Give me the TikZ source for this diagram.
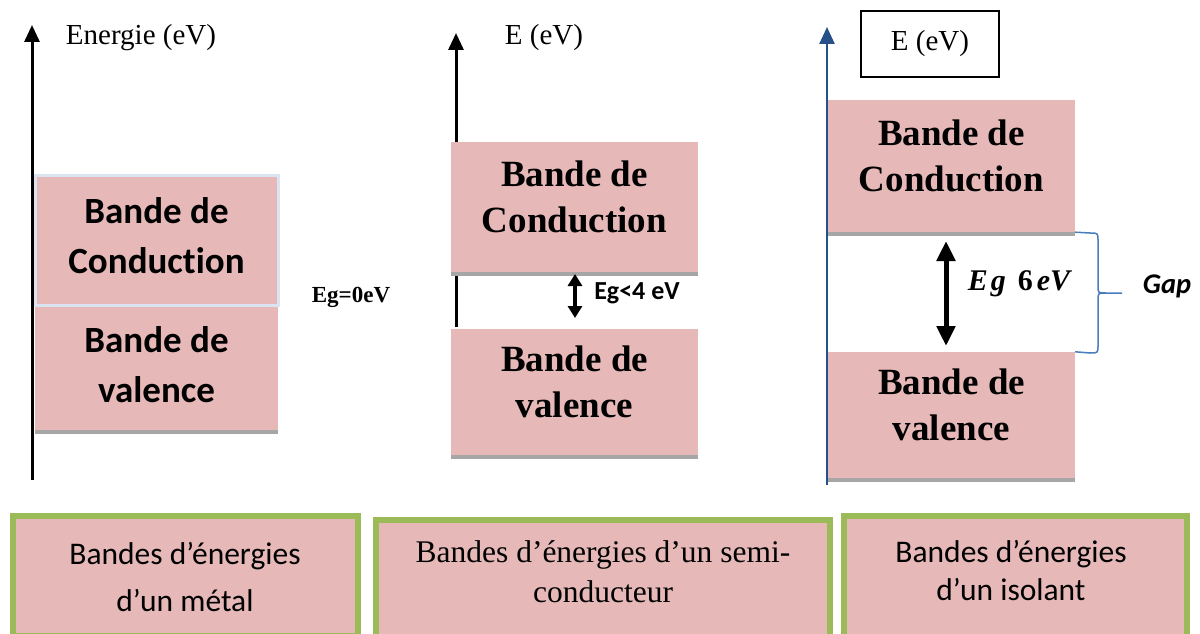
\documentclass[tikz,border=0pt]{standalone}
\usepackage{fontspec}
\setmainfont{Liberation Serif}
\newfontfamily\calib[Ligatures=NoCommon]{Carlito}
\usetikzlibrary{arrows.meta,shadows}
\definecolor{bandpink}{HTML}{E6B9B8}
\definecolor{shadowgray}{HTML}{A6A6A6}
\definecolor{paleblue}{HTML}{DBE5F1}
\definecolor{axisblue}{HTML}{25508A}
\definecolor{bracecol}{HTML}{4A7EBB}
\definecolor{capgreen}{HTML}{9BBB59}
\tikzset{
  band/.style={fill=bandpink, inner sep=0pt, minimum width=247pt, align=center},
  bandshadow/.style={drop shadow={shadow xshift=0pt, shadow yshift=-4pt, fill=shadowgray, opacity=1}},
  sansband/.style={font=\calib\bfseries\fontsize{37}{50}\selectfont, text depth=8pt},
  serifband/.style={font=\bfseries\fontsize{37}{46}\selectfont, text depth=20pt},
  axis/.style={line width=3pt, -{Triangle[width=15pt,length=17pt]}},
  gaparrow/.style={line width=4pt, {Triangle[width=14pt,length=12pt]}-{Triangle[width=14pt,length=12pt]}},
  capbox/.style={draw=capgreen, line width=6pt, fill=bandpink},
  captext/.style={align=center, inner sep=0pt}
}

\begin{document}
\begin{tikzpicture}[x=1pt,y=-1pt]
      \clip (0,0) rectangle (1200,634);

      % metal
      \coordinate (ax1b) at (32,480);
      \coordinate (ax1t) at (32,25);
      \node[font=\fontsize{29}{35}\selectfont] (lab1) at (141,38) {Energie (eV)};
      \node[band, sansband, minimum width=243pt, minimum height=130pt, draw=paleblue, line width=3pt] (cb1) at (156.5,240) {Bande de\\Conduction};
      \node[band, sansband, bandshadow, minimum width=243pt, minimum height=123pt] (vb1) at (156.5,368.5) {Bande de\\valence};
      \draw[axis] (ax1b) -- (ax1t);
      \node[font=\bfseries\fontsize{23}{26}\selectfont] (eg1) at (351,297) {Eg=0eV};

      % semi-conducteur
      \coordinate (ax2b) at (456,327);
      \coordinate (ax2t) at (456,33);
      \draw[axis] (ax2b) -- (ax2t);
      \node[font=\fontsize{29}{35}\selectfont] (lab2) at (544,38) {E (eV)};
      \node[band, serifband, bandshadow, minimum height=130pt] (cb2) at (574.5,207) {Bande de\\Conduction};
      \node[band, serifband, bandshadow, minimum height=126pt] (vb2) at (574.5,392) {Bande de\\valence};
      \coordinate (g2t) at (575,274);
      \coordinate (g2b) at (575,318);
      \draw[gaparrow] (g2b) -- (g2t);
      \node[font=\calib\bfseries\fontsize{26}{30}\selectfont] (eg2) at (637,293) {Eg<4 eV};

      % isolant
      \coordinate (ax3b) at (827,485);
      \coordinate (ax3t) at (827,27);
      \draw[axis, axisblue, line width=2.5pt] (ax3b) -- (ax3t);
      \node[draw, line width=1.2pt, minimum width=138pt, minimum height=66pt, font=\fontsize{29}{35}\selectfont] (lab3) at (930,44) {E (eV)\hspace{22pt}};
      \node[band, serifband, bandshadow, minimum height=132pt] (cb3) at (951.5,166) {Bande de\\Conduction};
      \node[band, serifband, bandshadow, minimum height=126pt] (vb3) at (951.5,415) {Bande de\\valence};
      \coordinate (g3t) at (946,241);
      \coordinate (g3b) at (946,346);
      \draw[gaparrow, line width=5pt, {Triangle[width=18pt,length=20pt]}-{Triangle[width=18pt,length=20pt]}] (g3b) -- (g3t);
      \node[font=\bfseries\fontsize{30}{34}\selectfont] (eg3) at (1019,284) {\itshape E\hspace{3pt}g\hspace{12pt}\upshape 6\hspace{4pt}\itshape eV};
      \coordinate (gaptip) at (1122,293);
      \draw[bracecol, line width=1.5pt] (cb3.south east) -- (1090,233) .. controls (1098,233) .. (1098,241) -- (1098,286) .. controls (1098,293) .. (1106,293) -- (gaptip);
      \draw[bracecol, line width=1.5pt] (vb3.north east) -- (1090,353) .. controls (1098,353) .. (1098,345) -- (1098,300) .. controls (1098,293) .. (1106,293);
      \node[font=\calib\bfseries\itshape\fontsize{28.5}{32}\selectfont] (gap) at (1167,286) {Gap};

      % legendes
      \draw[capbox] (13,516) rectangle (358,636);
      \draw[capbox] (376,520) rectangle (830,650);
      \draw[capbox] (844,516) rectangle (1187,650);
      \node[captext, font=\calib\fontsize{31.5}{47}\selectfont] (cap1) at (185,577) {Bandes d’énergies\\d’un métal};
      \node[captext, font=\fontsize{31.5}{40}\selectfont] (cap2) at (603,572) {Bandes d’énergies d’un semi-\\conducteur};
      \node[captext, font=\calib\fontsize{31.5}{38}\selectfont] (cap3) at (1011,571) {Bandes d’énergies\\d’un isolant};
\end{tikzpicture}
\end{document}
